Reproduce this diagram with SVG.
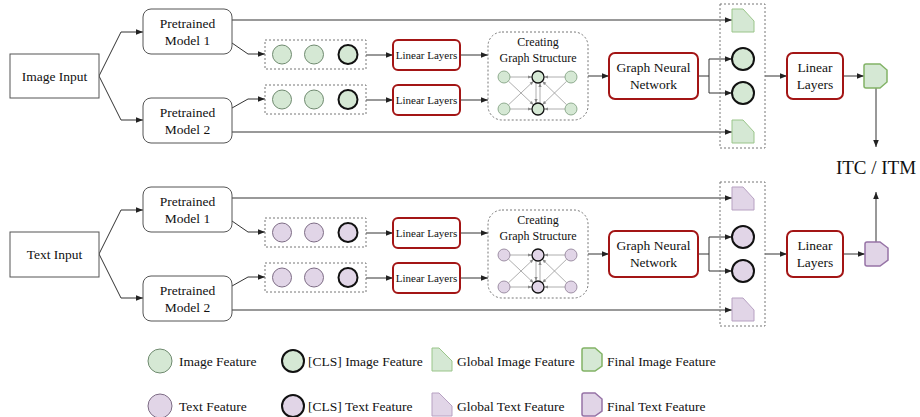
<svg xmlns="http://www.w3.org/2000/svg" width="920" height="417" viewBox="0 0 920 417">
<defs>
<marker id="arr" viewBox="0 0 10 10" refX="10" refY="5" markerWidth="7" markerHeight="7" markerUnits="userSpaceOnUse" orient="auto"><path d="M0,1 L10,5 L0,9 Z" fill="#222"/></marker>
<marker id="sarr" viewBox="0 0 10 10" refX="10" refY="5" markerWidth="4" markerHeight="4" markerUnits="userSpaceOnUse" orient="auto"><path d="M0,1 L10,5 L0,9 Z" fill="#888"/></marker>
<style>
text{font-family:"Liberation Serif","Times New Roman",serif;fill:#111}
.t{font-size:13.5px;text-anchor:middle}
.s{font-size:11px;text-anchor:middle}
.g{font-size:12px;text-anchor:middle}
.lg{font-size:13.5px}
.inp{fill:#fff;stroke:#555;stroke-width:1}
.pm{fill:#fff;stroke:#555;stroke-width:1}
.red{fill:#fff;stroke:#a31515;stroke-width:2}
.dash{fill:none;stroke:#777;stroke-width:1;stroke-dasharray:2,2}
.c{stroke:#333;stroke-width:1;fill:none;marker-end:url(#arr)}
.cl{stroke:#777;stroke-width:1.3;fill:none;marker-end:url(#arr)}
.sm{stroke:#999;stroke-width:0.8;fill:none;marker-end:url(#sarr)}
.gi{fill:#d5e8d4;stroke:#6f8a6f;stroke-width:1}
.gc{fill:#d5e8d4;stroke:#111;stroke-width:2}
.pi{fill:#e1d5e7;stroke:#7d6c85;stroke-width:1}
.pc{fill:#e1d5e7;stroke:#111;stroke-width:2}
.gsi{fill:#d5e8d4;stroke:#9ac58a;stroke-width:1}
.psi{fill:#e1d5e7;stroke:#b7a1c2;stroke-width:1}
.gf{fill:#d5e8d4;stroke:#82b366;stroke-width:1.5}
.pf{fill:#e1d5e7;stroke:#9673a6;stroke-width:1.5}
.mi{fill:#d5e8d4;stroke:#7a9a7a;stroke-width:0.8}
.mc{fill:#d5e8d4;stroke:#111;stroke-width:1.3}
.mpi{fill:#e1d5e7;stroke:#8a7a92;stroke-width:0.8}
.mpc{fill:#e1d5e7;stroke:#111;stroke-width:1.3}
</style>
</defs>
<rect width="920" height="417" fill="#fff"/>

<g id="connectors">
<!-- image branch -->
<polyline class="c" points="99,76 121,32 143,32"/>
<polyline class="c" points="99,76 121,120 143,120"/>
<line class="cl" x1="232" y1="20" x2="732" y2="20"/>
<polyline class="c" points="232,43 248,54 265,54"/>
<polyline class="c" points="232,108 248,99 265,99"/>
<line class="cl" x1="232" y1="132" x2="732" y2="132"/>
<line class="c" x1="366" y1="55" x2="393" y2="55"/>
<line class="c" x1="366" y1="100" x2="393" y2="100"/>
<line class="c" x1="460" y1="55" x2="488" y2="55"/>
<line class="c" x1="460" y1="100" x2="488" y2="100"/>
<line class="c" x1="588" y1="76" x2="609" y2="76"/>
<polyline class="c" points="698,76 709,76 709,59 732,59"/>
<polyline class="c" points="709,76 709,93 732,93"/>
<line class="c" x1="765" y1="76" x2="787" y2="76"/>
<line class="c" x1="843" y1="76" x2="864" y2="76"/>
<line class="c" x1="876" y1="88" x2="876" y2="147"/>
<!-- text branch -->
<polyline class="c" points="99,254 121,210 143,210"/>
<polyline class="c" points="99,254 121,298 143,298"/>
<line class="cl" x1="232" y1="198" x2="732" y2="198"/>
<polyline class="c" points="232,221 248,232 265,232"/>
<polyline class="c" points="232,286 248,277 265,277"/>
<line class="cl" x1="232" y1="310" x2="732" y2="310"/>
<line class="c" x1="366" y1="233" x2="393" y2="233"/>
<line class="c" x1="366" y1="278" x2="393" y2="278"/>
<line class="c" x1="460" y1="233" x2="488" y2="233"/>
<line class="c" x1="460" y1="278" x2="488" y2="278"/>
<line class="c" x1="588" y1="254" x2="609" y2="254"/>
<polyline class="c" points="698,254 709,254 709,237 732,237"/>
<polyline class="c" points="709,254 709,271 732,271"/>
<line class="c" x1="765" y1="254" x2="787" y2="254"/>
<line class="c" x1="843" y1="254" x2="865" y2="254"/>
<line class="c" x1="876" y1="242" x2="876" y2="192"/>
</g>

<!-- ===== Image branch ===== -->
<g id="image-input"><rect class="inp" x="10" y="54" width="89" height="44"/><text class="t" x="54.5" y="81">Image Input</text></g>
<g id="img-pm1"><rect class="pm" x="143" y="9" width="89" height="45" rx="8"/><text class="t" x="187.5" y="28">Pretrained</text><text class="t" x="187.5" y="45">Model 1</text></g>
<g id="img-pm2"><rect class="pm" x="143" y="98" width="89" height="45" rx="8"/><text class="t" x="187.5" y="117">Pretrained</text><text class="t" x="187.5" y="134">Model 2</text></g>
<g id="img-feat1"><rect class="dash" x="265" y="40" width="101" height="29"/><circle class="gi" cx="282" cy="54.5" r="9.5"/><circle class="gi" cx="314" cy="54.5" r="9.5"/><circle class="gc" cx="348" cy="54.5" r="9.5"/></g>
<g id="img-feat2"><rect class="dash" x="265" y="85" width="101" height="29"/><circle class="gi" cx="282" cy="99.5" r="9.5"/><circle class="gi" cx="314" cy="99.5" r="9.5"/><circle class="gc" cx="348" cy="99.5" r="9.5"/></g>
<g id="img-ll1"><rect class="red" x="393" y="40" width="67" height="30" rx="5"/><text class="s" x="426.5" y="59">Linear Layers</text></g>
<g id="img-ll2"><rect class="red" x="393" y="85" width="67" height="30" rx="5"/><text class="s" x="426.5" y="104">Linear Layers</text></g>
<g id="img-graph">
<rect class="dash" x="488" y="32" width="100" height="88" rx="14"/>
<text class="g" x="538" y="46">Creating</text><text class="g" x="538" y="62">Graph Structure</text>
<line class="sm" x1="510" y1="77" x2="532" y2="77"/>
<line class="sm" x1="565" y1="77" x2="544" y2="77"/>
<line class="sm" x1="510" y1="109" x2="532" y2="109"/>
<line class="sm" x1="565" y1="109" x2="544" y2="109"/>
<line class="sm" x1="508.4" y1="81.1" x2="533.6" y2="104.9"/>
<line class="sm" x1="508.4" y1="104.9" x2="533.6" y2="81.1"/>
<line class="sm" x1="566.7" y1="81.2" x2="542.3" y2="104.8"/>
<line class="sm" x1="566.7" y1="104.8" x2="542.3" y2="81.2"/>
<line class="sm" x1="536" y1="83" x2="536" y2="103"/>
<line class="sm" x1="540" y1="103" x2="540" y2="83"/>
<circle class="mi" cx="504" cy="77" r="6"/><circle class="mc" cx="538" cy="77" r="6"/><circle class="mi" cx="571" cy="77" r="6"/>
<circle class="mi" cx="504" cy="109" r="6"/><circle class="mc" cx="538" cy="109" r="6"/><circle class="mi" cx="571" cy="109" r="6"/>
</g>
<g id="img-gnn"><rect class="red" x="609" y="53" width="89" height="46" rx="6"/><text class="t" x="653.5" y="72">Graph Neural</text><text class="t" x="653.5" y="89">Network</text></g>
<g id="img-collect">
<rect class="dash" x="720" y="4" width="45" height="144"/>
<path class="gsi" d="M732,9 H743 L754,21 V32 H732 Z"/>
<circle class="gc" cx="743" cy="59" r="11"/>
<circle class="gc" cx="743" cy="93" r="11"/>
<path class="gsi" d="M732,120 H743 L754,132 V143 H732 Z"/>
</g>
<g id="img-ll3"><rect class="red" x="787" y="53" width="56" height="46" rx="6"/><text class="t" x="815" y="72">Linear</text><text class="t" x="815" y="89">Layers</text></g>
<g id="img-final"><path class="gf" d="M864,66 Q864,64 866,64 H880 L887,70 V82 L880,88 H866 Q864,88 864,86 Z"/></g>

<g id="itc-itm"><text x="876" y="174" style="font-size:19px;text-anchor:middle">ITC / ITM</text></g>

<!-- ===== Text branch ===== -->
<g id="text-input"><rect class="inp" x="10" y="232" width="89" height="45"/><text class="t" x="54.5" y="259">Text Input</text></g>
<g id="txt-pm1"><rect class="pm" x="143" y="187" width="89" height="45" rx="8"/><text class="t" x="187.5" y="206">Pretrained</text><text class="t" x="187.5" y="223">Model 1</text></g>
<g id="txt-pm2"><rect class="pm" x="143" y="276" width="89" height="45" rx="8"/><text class="t" x="187.5" y="295">Pretrained</text><text class="t" x="187.5" y="312">Model 2</text></g>
<g id="txt-feat1"><rect class="dash" x="265" y="218" width="101" height="29"/><circle class="pi" cx="282" cy="232.5" r="9.5"/><circle class="pi" cx="314" cy="232.5" r="9.5"/><circle class="pc" cx="348" cy="232.5" r="9.5"/></g>
<g id="txt-feat2"><rect class="dash" x="265" y="263" width="101" height="29"/><circle class="pi" cx="282" cy="277.5" r="9.5"/><circle class="pi" cx="314" cy="277.5" r="9.5"/><circle class="pc" cx="348" cy="277.5" r="9.5"/></g>
<g id="txt-ll1"><rect class="red" x="393" y="218" width="67" height="30" rx="5"/><text class="s" x="426.5" y="237">Linear Layers</text></g>
<g id="txt-ll2"><rect class="red" x="393" y="263" width="67" height="30" rx="5"/><text class="s" x="426.5" y="282">Linear Layers</text></g>
<g id="txt-graph">
<rect class="dash" x="488" y="210" width="100" height="88" rx="14"/>
<text class="g" x="538" y="224">Creating</text><text class="g" x="538" y="240">Graph Structure</text>
<line class="sm" x1="510" y1="255" x2="532" y2="255"/>
<line class="sm" x1="565" y1="255" x2="544" y2="255"/>
<line class="sm" x1="510" y1="287" x2="532" y2="287"/>
<line class="sm" x1="565" y1="287" x2="544" y2="287"/>
<line class="sm" x1="508.4" y1="259.1" x2="533.6" y2="282.9"/>
<line class="sm" x1="508.4" y1="282.9" x2="533.6" y2="259.1"/>
<line class="sm" x1="566.7" y1="259.2" x2="542.3" y2="282.8"/>
<line class="sm" x1="566.7" y1="282.8" x2="542.3" y2="259.2"/>
<line class="sm" x1="536" y1="261" x2="536" y2="281"/>
<line class="sm" x1="540" y1="281" x2="540" y2="261"/>
<circle class="mpi" cx="504" cy="255" r="6"/><circle class="mpc" cx="538" cy="255" r="6"/><circle class="mpi" cx="571" cy="255" r="6"/>
<circle class="mpi" cx="504" cy="287" r="6"/><circle class="mpc" cx="538" cy="287" r="6"/><circle class="mpi" cx="571" cy="287" r="6"/>
</g>
<g id="txt-gnn"><rect class="red" x="609" y="231" width="89" height="46" rx="6"/><text class="t" x="653.5" y="250">Graph Neural</text><text class="t" x="653.5" y="267">Network</text></g>
<g id="txt-collect">
<rect class="dash" x="720" y="182" width="45" height="144"/>
<path class="psi" d="M732,187 H743 L754,199 V210 H732 Z"/>
<circle class="pc" cx="743" cy="237" r="11"/>
<circle class="pc" cx="743" cy="271" r="11"/>
<path class="psi" d="M732,298 H743 L754,310 V321 H732 Z"/>
</g>
<g id="txt-ll3"><rect class="red" x="787" y="231" width="56" height="46" rx="6"/><text class="t" x="815" y="250">Linear</text><text class="t" x="815" y="267">Layers</text></g>
<g id="txt-final"><path class="pf" d="M865,244 Q865,242 867,242 H880 L888,248 V260 L880,266 H867 Q865,266 865,264 Z"/></g>

<!-- ===== Legend ===== -->
<g id="legend">
<circle class="gi" cx="160" cy="361" r="12"/><text class="lg" x="179" y="366">Image Feature</text>
<circle class="gc" cx="293" cy="361" r="11"/><text class="lg" x="308" y="366">[CLS] Image Feature</text>
<path class="gsi" d="M432,348 H439 L452,361 V371 H432 Z"/><text class="lg" x="457" y="366">Global Image Feature</text>
<path class="gf" d="M582,350 Q582,348 584,348 H595 L602,354 V366 L595,371 H584 Q582,371 582,369 Z"/><text class="lg" x="607" y="366">Final Image Feature</text>
<circle class="pi" cx="160" cy="406" r="12"/><text class="lg" x="179" y="411">Text Feature</text>
<circle class="pc" cx="293" cy="406" r="11"/><text class="lg" x="308" y="411">[CLS] Text Feature</text>
<path class="psi" d="M432,393 H439 L452,406 V416 H432 Z"/><text class="lg" x="457" y="411">Global Text Feature</text>
<path class="pf" d="M582,395 Q582,393 584,393 H595 L602,399 V411 L595,416 H584 Q582,416 582,414 Z"/><text class="lg" x="607" y="411">Final Text Feature</text>
</g>
</svg>
